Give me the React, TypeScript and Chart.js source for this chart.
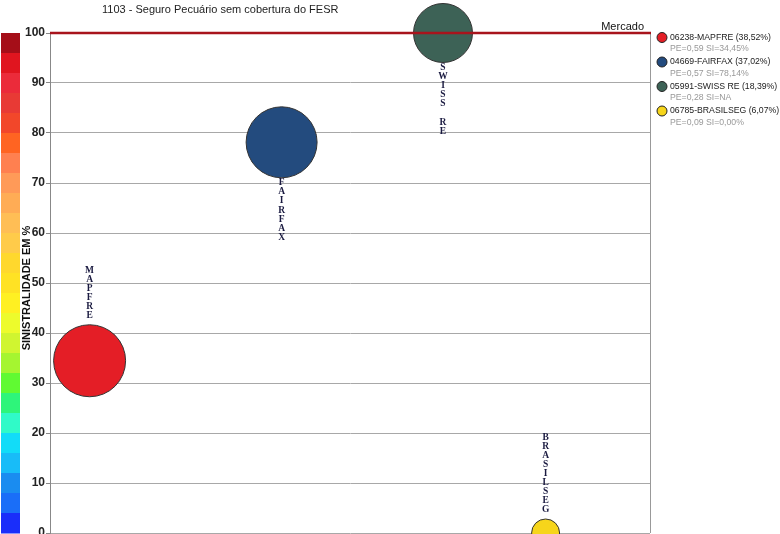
import React, { useEffect, useRef } from 'react';
import { Chart, registerables } from 'chart.js';

Chart.register(...registerables);

// ---- data ----
const chartTitle = '1103 - Seguro Pecuário sem cobertura do FESR';
const yAxisTitle = 'SINISTRALIDADE EM %';
const marketLabel = 'Mercado';
const marketValue = 100;

const companyCodes = ['06238', '04669', '05991', '06785'];
const companyNames = ['MAPFRE', 'FAIRFAX', 'SWISS RE', 'BRASILSEG'];
const marketShares = ['38,52%', '37,02%', '18,39%', '6,07%'];
const peLabels = ['0,59', '0,57', '0,28', '0,09'];
const siLabels = ['34,45%', '78,14%', 'NA', '0,00%'];
const xValues = [6.6, 38.6, 65.5, 82.6];
const siValues = [34.45, 78.14, 100, 0];
const bubbleSizes = [36, 35.5, 29.5, 14];
const labelSides = ['top', 'bottom', 'bottom', 'top'];

const yMin = 0;
const yMax = 100;
const yStep = 10;

// ---- styles ----
const bubbleColors = ['#E41E26', '#234B7E', '#3D6256', '#F6D51B'];
const colorScale = [
  '#A50E18', '#E0151F', '#EB2B3A', '#E83A35', '#F2472A', '#FF6422', '#FF8050', '#FF9A58',
  '#FFAC55', '#FFBE55', '#FFCB4A', '#FFD82D', '#FFE224', '#FFF022', '#EDFB2C', '#D0F530',
  '#A5F530', '#60FA32', '#2EF57A', '#30FAC8', '#12DCF8', '#18BCF8', '#1A8CF0', '#1A6EF8',
  '#1A2EFA',
];
const SANS = "'Liberation Sans', Arial, sans-serif";
const SERIF = "'Liberation Serif', 'DejaVu Serif', serif";

const decorPlugin = {
  id: 'decor',
  beforeDraw(chart: any) {
    const ctx = chart.ctx;
    const y = chart.scales.y;
    const top = y.getPixelForValue(yMax);
    const bottom = y.getPixelForValue(yMin);
    const n = colorScale.length;
    const h = (bottom - top) / n;
    ctx.save();
    colorScale.forEach((c, i) => {
      ctx.fillStyle = c;
      ctx.fillRect(1, top + i * h, 19, h + 0.5);
    });
    // title
    ctx.fillStyle = '#222';
    ctx.font = `11px ${SANS}`;
    ctx.textAlign = 'left';
    ctx.textBaseline = 'middle';
    ctx.fillText(chartTitle, 102, 10);
    // y axis title
    ctx.save();
    ctx.translate(26.5, (top + bottom) / 2 + 5);
    ctx.rotate(-Math.PI / 2);
    ctx.font = `bold 11px ${SANS}`;
    ctx.textAlign = 'center';
    ctx.fillStyle = '#111';
    ctx.fillText(yAxisTitle, 0, 0);
    ctx.restore();
    // legend
    companyNames.forEach((name, i) => {
      const cy = 37.5 + i * 24.5;
      ctx.beginPath();
      ctx.arc(662, cy, 5, 0, Math.PI * 2);
      ctx.fillStyle = bubbleColors[i];
      ctx.fill();
      ctx.lineWidth = 1;
      ctx.strokeStyle = '#222';
      ctx.stroke();
      ctx.font = `8.7px ${SANS}`;
      ctx.textAlign = 'left';
      ctx.textBaseline = 'middle';
      ctx.fillStyle = '#222';
      ctx.fillText(`${companyCodes[i]}-${name} (${marketShares[i]})`, 670, cy);
      ctx.fillStyle = '#999';
      ctx.fillText(`PE=${peLabels[i]} SI=${siLabels[i]}`, 670, cy + 11.5);
    });
    ctx.restore();
  },
  afterDatasetsDraw(chart: any) {
    const ctx = chart.ctx;
    const area = chart.chartArea;
    const y = chart.scales.y;
    ctx.save();
    // right border
    ctx.strokeStyle = '#999';
    ctx.lineWidth = 1;
    ctx.beginPath();
    ctx.moveTo(area.right + 0.5, area.top);
    ctx.lineTo(area.right + 0.5, area.bottom);
    ctx.stroke();
    // market line
    const my = y.getPixelForValue(marketValue);
    ctx.strokeStyle = '#A8141C';
    ctx.lineWidth = 2.5;
    ctx.beginPath();
    ctx.moveTo(area.left, my);
    ctx.lineTo(area.right + 1, my);
    ctx.stroke();
    ctx.fillStyle = '#111';
    ctx.font = `11px ${SANS}`;
    ctx.textAlign = 'right';
    ctx.textBaseline = 'middle';
    ctx.fillText(marketLabel, area.right - 6, my - 6);
    // bubble labels
    const meta = chart.getDatasetMeta(0);
    ctx.font = `bold 9.5px ${SERIF}`;
    ctx.textAlign = 'center';
    ctx.textBaseline = 'middle';
    ctx.fillStyle = '#1a1a40';
    meta.data.forEach((el: any, i: number) => {
      const r = el.options.radius;
      const letters = companyNames[i].split('');
      const lh = 9.1;
      let start;
      if (labelSides[i] === 'top') {
        start = el.y - r - 9 - (letters.length - 1) * lh;
      } else {
        start = el.y + r + 5;
      }
      letters.forEach((ch, k) => {
        if (ch !== ' ') ctx.fillText(ch, el.x, start + k * lh);
      });
    });
    ctx.restore();
  },
};

export default function App() {
  const ref = useRef<HTMLCanvasElement>(null);
  useEffect(() => {
    if (!ref.current) return;
    const chart = new Chart(ref.current, {
      type: 'bubble',
      data: {
        datasets: [
          {
            data: xValues.map((x, i) => ({ x, y: siValues[i], r: bubbleSizes[i] })),
            backgroundColor: bubbleColors,
            borderColor: '#333',
            borderWidth: 1,
            clip: false as any,
          },
        ],
      },
      options: {
        animation: false,
        responsive: false,
        events: [],
        layout: { autoPadding: false, padding: { left: 0, top: 33, right: 130, bottom: 27 } },
        plugins: { legend: { display: false }, tooltip: { enabled: false } },
        scales: {
          x: { type: 'linear', min: 0, max: 100, display: false },
          y: {
            min: yMin,
            max: yMax,
            ticks: {
              stepSize: yStep,
              padding: 1,
              color: '#222',
              font: { family: SANS, size: 12, weight: 'bold' },
            },
            grid: { color: '#a8a8a8', lineWidth: 1, tickLength: 4, tickColor: '#888' },
            border: { display: true, color: '#888', width: 1 },
            afterFit(scale: any) {
              scale.width = 50;
            },
          },
        },
      } as any,
      plugins: [decorPlugin],
    });
    return () => chart.destroy();
  }, []);
  return (
    <div style={{ position: 'absolute', left: 0, top: 0, width: 780, height: 560, background: '#fff' }}>
      <canvas ref={ref} width={780} height={560} style={{ display: 'block', width: 780, height: 560 }} />
    </div>
  );
}
